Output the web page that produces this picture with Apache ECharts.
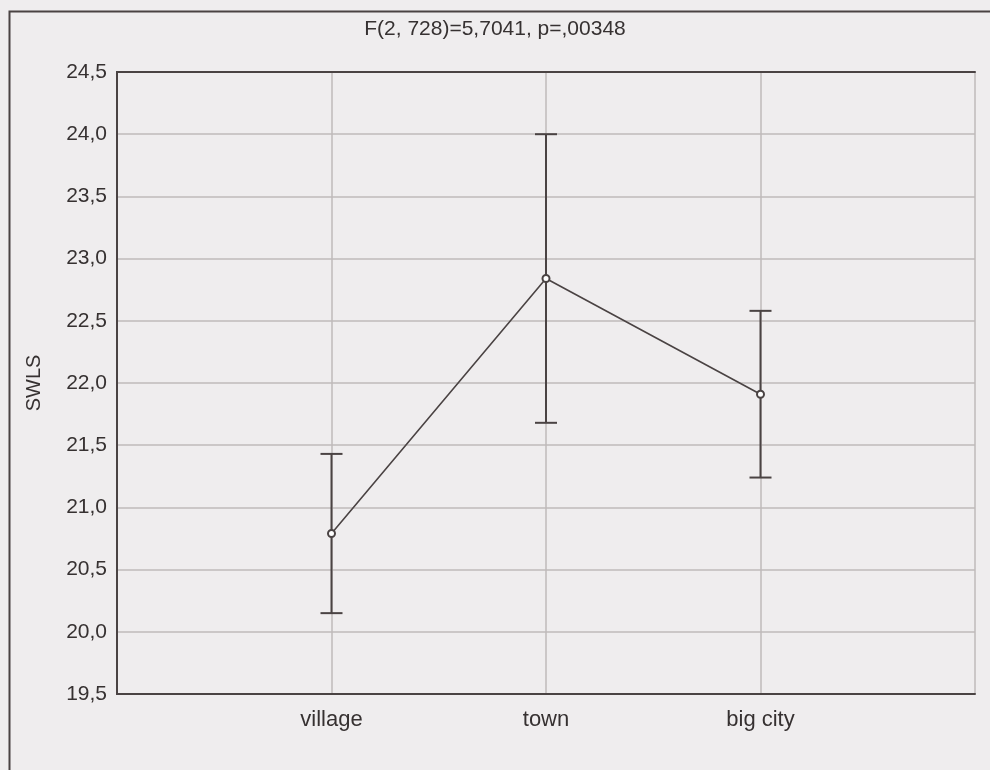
<!DOCTYPE html>
<html><head><meta charset="utf-8">
<script src="https://cdn.jsdelivr.net/npm/echarts@6/dist/echarts.min.js"></script>
<style>html,body{margin:0;padding:0;background:#efedee}#c{width:990px;height:770px}</style>
</head><body><div id="c"></div><script>
const categories = ['village', 'town', 'big city'];
const means = [20.79, 22.84, 21.91];
const lower = [20.15, 21.68, 21.24];
const upper = [21.43, 24.00, 22.58];
const yMin = 19.5, yMax = 24.5, yStep = 0.5;
const titleText = 'F(2, 728)=5,7041, p=,00348';
const yName = 'SWLS';

const ink = '#4a4343';
const textCol = '#363131';
const gridCol = '#bfbaba';
const font = 'Liberation Sans';

const xMax = categories.length + 1;
const frameAxis = {show: true, lineStyle: {color: ink, width: 2}};

const chart = echarts.init(document.getElementById('c'), null, {renderer: 'canvas'});
chart.setOption({
  backgroundColor: '#efedee',
  animation: false,
  title: {
    text: titleText, left: 'center', top: 14,
    textStyle: {fontFamily: font, fontSize: 21, fontWeight: 'normal', color: textCol}
  },
  graphic: [{
    type: 'rect', left: 7, top: 9, z: -1,
    shape: {width: 1000, height: 800},
    style: {fill: 'none', stroke: ink, lineWidth: 2}
  }],
  grid: {left: 117, right: 15, top: 72, bottom: 76},
  xAxis: [{
    type: 'value', min: 0, max: xMax, interval: 1, position: 'bottom',
    axisLine: frameAxis, axisTick: {show: false},
    splitLine: {show: true, lineStyle: {color: gridCol, width: 1.5}},
    axisLabel: {
      margin: 15, color: textCol, fontFamily: font, fontSize: 22,
      formatter: v => categories[v - 1] || ''
    }
  }, {
    type: 'value', min: 0, max: xMax, interval: 1, position: 'top',
    axisLine: frameAxis, axisTick: {show: false}, axisLabel: {show: false}, splitLine: {show: false}
  }],
  yAxis: [{
    type: 'value', min: yMin, max: yMax, interval: yStep, position: 'left',
    name: yName, nameLocation: 'middle', nameGap: 73, nameRotate: 90,
    nameTextStyle: {fontFamily: font, fontSize: 20, color: textCol},
    axisLine: frameAxis, axisTick: {show: false},
    splitLine: {show: true, lineStyle: {color: gridCol, width: 1.5}},
    axisLabel: {
      margin: 10, color: textCol, fontFamily: font, fontSize: 21,
      formatter: v => v.toFixed(1).replace('.', ',')
    }
  }, {
    type: 'value', min: yMin, max: yMax, interval: yStep, position: 'right',
    axisLine: frameAxis, axisTick: {show: false}, axisLabel: {show: false}, splitLine: {show: false}
  }],
  series: [
    {
      type: 'custom',
      data: categories.map((c, i) => [i + 1, lower[i], upper[i]]),
      renderItem: function (params, api) {
        const x = api.value(0);
        const lo = api.coord([x, api.value(1)]);
        const hi = api.coord([x, api.value(2)]);
        const hw = 11;
        const st = {stroke: ink, lineWidth: 2};
        return {type: 'group', children: [
          {type: 'line', shape: {x1: lo[0], y1: lo[1], x2: hi[0], y2: hi[1]}, style: st},
          {type: 'line', shape: {x1: hi[0] - hw, y1: hi[1], x2: hi[0] + hw, y2: hi[1]}, style: st},
          {type: 'line', shape: {x1: lo[0] - hw, y1: lo[1], x2: lo[0] + hw, y2: lo[1]}, style: st}
        ]};
      },
      z: 3
    },
    {
      type: 'line',
      data: means.map((m, i) => [i + 1, m]),
      symbol: 'emptyCircle', symbolSize: 7,
      lineStyle: {color: ink, width: 1.6},
      itemStyle: {color: ink, borderWidth: 1.5},
      z: 4
    }
  ]
});
</script></body></html>
